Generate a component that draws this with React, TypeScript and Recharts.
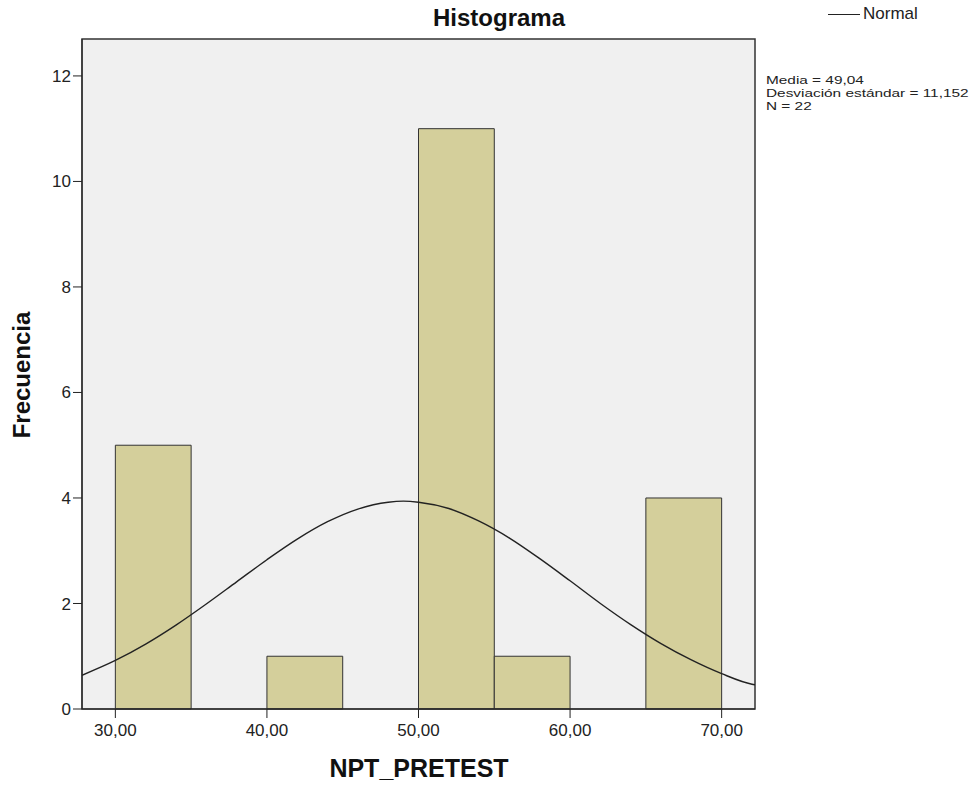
import React from 'react';
import {
  ComposedChart,
  Line,
  XAxis,
  YAxis,
  CartesianGrid,
  ReferenceArea,
} from 'recharts';

// histogram bins of NPT_PRETEST (start, end, frequency)
const binStart = [30, 35, 40, 45, 50, 55, 60, 65];
const binEnd = [35, 40, 45, 50, 55, 60, 65, 70];
const binCount = [5, 0, 1, 0, 11, 1, 0, 4];

// normal curve
const curveX = [27.8, 30, 32, 34, 36, 38, 40, 42, 44, 46, 48, 49, 50, 52, 54, 56, 58, 60, 62, 64, 66, 68, 70, 72, 72.2];
const curveY = [0.64, 0.92, 1.23, 1.59, 1.99, 2.41, 2.83, 3.22, 3.55, 3.79, 3.92, 3.94, 3.92, 3.8, 3.56, 3.24, 2.85, 2.43, 2.0, 1.6, 1.24, 0.93, 0.67, 0.47, 0.46];

const xTicks = [30, 40, 50, 60, 70];
const yTicks = [0, 2, 4, 6, 8, 10, 12];
const statLines = ['Media = 49,04', 'Desviación estándar = 11,152', 'N = 22'];

const curve = curveX.map((x, i) => ({ x, y: curveY[i] }));
const bins = binStart
  .map((s, i) => ({ s, e: binEnd[i], n: binCount[i] }))
  .filter((b) => b.n > 0);

const font = "'Liberation Sans', Arial, sans-serif";
const tickStyle = { fontFamily: font, fontSize: 17, fill: '#222' };

export default function App() {
  return (
    <div style={{ position: 'absolute', left: 0, top: 0, width: 979, height: 786, background: '#fff', fontFamily: font }}>
      <ComposedChart
        width={979}
        height={786}
        margin={{ top: 39, right: 224, left: 22, bottom: 48 }}
      >
        <CartesianGrid fill="#f0f0f0" stroke="none" />
        <XAxis
          dataKey="x"
          type="number"
          domain={[27.8, 72.2]}
          ticks={xTicks}
          allowDataOverflow
          tickFormatter={(v: number) => v.toFixed(2).replace('.', ',')}
          tick={{ ...tickStyle, dy: 4 }}
          tickSize={9}
          stroke="#222"
          height={29}
        />
        <YAxis
          type="number"
          domain={[0, 12.7]}
          ticks={yTicks}
          allowDataOverflow
          tick={tickStyle}
          tickSize={9}
          stroke="#222"
          width={60}
        />
        {bins.map((b) => (
          <ReferenceArea
            key={b.s}
            x1={b.s}
            x2={b.e}
            y1={0}
            y2={b.n}
            fill="#d4cf9b"
            fillOpacity={1}
            stroke="#333"
            strokeWidth={1}
          />
        ))}
        <ReferenceArea
          x1={27.8}
          x2={72.2}
          y1={0}
          y2={12.7}
          fill="none"
          stroke="#333"
          strokeWidth={1.5}
        />
        <Line
          data={curve}
          dataKey="y"
          type="monotone"
          stroke="#222"
          strokeWidth={1.4}
          dot={false}
          isAnimationActive={false}
        />
      </ComposedChart>

      <div style={{ position: 'absolute', left: 0, width: 998, top: 4, textAlign: 'center', fontSize: 24, fontWeight: 'bold', color: '#111' }}>
        Histograma
      </div>
      <div style={{ position: 'absolute', left: 81, width: 676, top: 754, textAlign: 'center', fontSize: 25, fontWeight: 'bold', color: '#111' }}>
        NPT_PRETEST
      </div>
      <div
        style={{
          position: 'absolute',
          left: 22,
          top: 375,
          transform: 'translate(-50%, -50%) rotate(-90deg)',
          fontSize: 24,
          fontWeight: 'bold',
          color: '#111',
          whiteSpace: 'nowrap',
        }}
      >
        Frecuencia
      </div>
      <div style={{ position: 'absolute', left: 828, top: 4, display: 'flex', alignItems: 'center', fontSize: 17, color: '#222' }}>
        <span style={{ display: 'inline-block', width: 32, height: 0, borderTop: '1.5px solid #222', marginRight: 3 }} />
        Normal
      </div>
      <div
        style={{
          position: 'absolute',
          left: 766,
          top: 74,
          fontSize: 11.3,
          lineHeight: '13px',
          color: '#222',
          whiteSpace: 'nowrap',
          transform: 'scaleX(1.36)',
          transformOrigin: 'left top',
        }}
      >
        {statLines.map((t) => (
          <div key={t}>{t}</div>
        ))}
      </div>
    </div>
  );
}
